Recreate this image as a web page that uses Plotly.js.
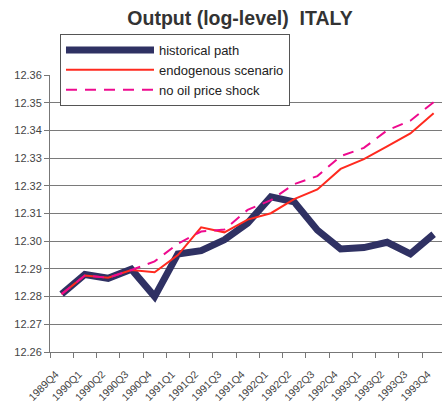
<!DOCTYPE html>
<html>
<head>
<meta charset="utf-8">
<script src="https://cdn.plot.ly/plotly-3.0.1.min.js"></script>
<style>
html,body{margin:0;padding:0;background:#fff;}
#chart{width:442px;height:402px;}
</style>
</head>
<body>
<div id="chart"></div>
<script>
var quarters = ["1989Q4","1990Q1","1990Q2","1990Q3","1990Q4","1991Q1","1991Q2","1991Q3","1991Q4",
  "1992Q1","1992Q2","1992Q3","1992Q4","1993Q1","1993Q2","1993Q3","1993Q4"];
var historicalPath = [12.2809,12.2880,12.2866,12.2899,12.2800,12.2954,12.2966,12.3005,12.3065,
  12.3160,12.3142,12.3040,12.2972,12.2977,12.2996,12.2954,12.3025];
var endogenousScenario = [12.2809,12.2876,12.2868,12.2896,12.2888,12.2950,12.3050,12.3032,12.3078,
  12.3101,12.3152,12.3187,12.3261,12.3296,12.3342,12.3389,12.3462];
var noOilShock = [12.2809,12.2876,12.2868,12.2896,12.2927,12.2991,12.3035,12.3042,12.3113,
  12.3148,12.3206,12.3235,12.3307,12.3337,12.3400,12.3435,12.3502];
var yTicks = [12.26,12.27,12.28,12.29,12.30,12.31,12.32,12.33,12.34,12.35,12.36];
var yTickText = ["12.26","12.27","12.28","12.29","12.30","12.31","12.32","12.33","12.34","12.35","12.36"];

var traces = [
  {x: quarters, y: historicalPath, type: "scatter", mode: "lines", name: "historical path",
   line: {color: "#2f3163", width: 7}},
  {x: quarters, y: endogenousScenario, type: "scatter", mode: "lines", name: "endogenous scenario",
   line: {color: "#ff2a1f", width: 2}},
  {x: quarters, y: noOilShock, type: "scatter", mode: "lines", name: "no oil price shock",
   line: {color: "#ee0a8e", width: 2, dash: "11px,8px"}}
];

var layout = {
  width: 442, height: 402,
  margin: {l: 50, r: 0, t: 75, b: 50},
  paper_bgcolor: "#fff", plot_bgcolor: "#fff",
  font: {family: "Arial, 'Liberation Sans', sans-serif", color: "#444"},
  title: {text: "<b>Output (log-level)  ITALY</b>", x: 0.543, xanchor: "center",
          y: 0.955, yanchor: "middle", font: {size: 19.5, color: "#333"}},
  showlegend: true,
  legend: {x: 0.0255, y: 1.148, xanchor: "left", yanchor: "top",
           bgcolor: "#fff", bordercolor: "#555", borderwidth: 1,
           font: {size: 13, color: "#222"}, entrywidth: 250, itemwidth: 88},
  xaxis: {type: "category", range: [-0.5, 16.36], tickson: "boundaries",
          ticks: "outside", ticklen: 5, tickcolor: "#777",
          showline: true, linecolor: "#777", linewidth: 1,
          showgrid: false, zeroline: false, tickangle: -45,
          ticklabelstandoff: 11, ticklabelshift: -6,
          tickfont: {size: 10.5, color: "#444"}, fixedrange: true},
  yaxis: {range: [12.26, 12.36], tickvals: yTicks, ticktext: yTickText,
          ticks: "outside", ticklen: 5, tickcolor: "#777",
          showline: true, linecolor: "#777", linewidth: 1,
          showgrid: true, gridcolor: "#7a7a7a", gridwidth: 1, zeroline: false,
          tickfont: {size: 11, color: "#444"}, fixedrange: true}
};

Plotly.newPlot("chart", traces, layout, {displayModeBar: false, staticPlot: true});
</script>
</body>
</html>
